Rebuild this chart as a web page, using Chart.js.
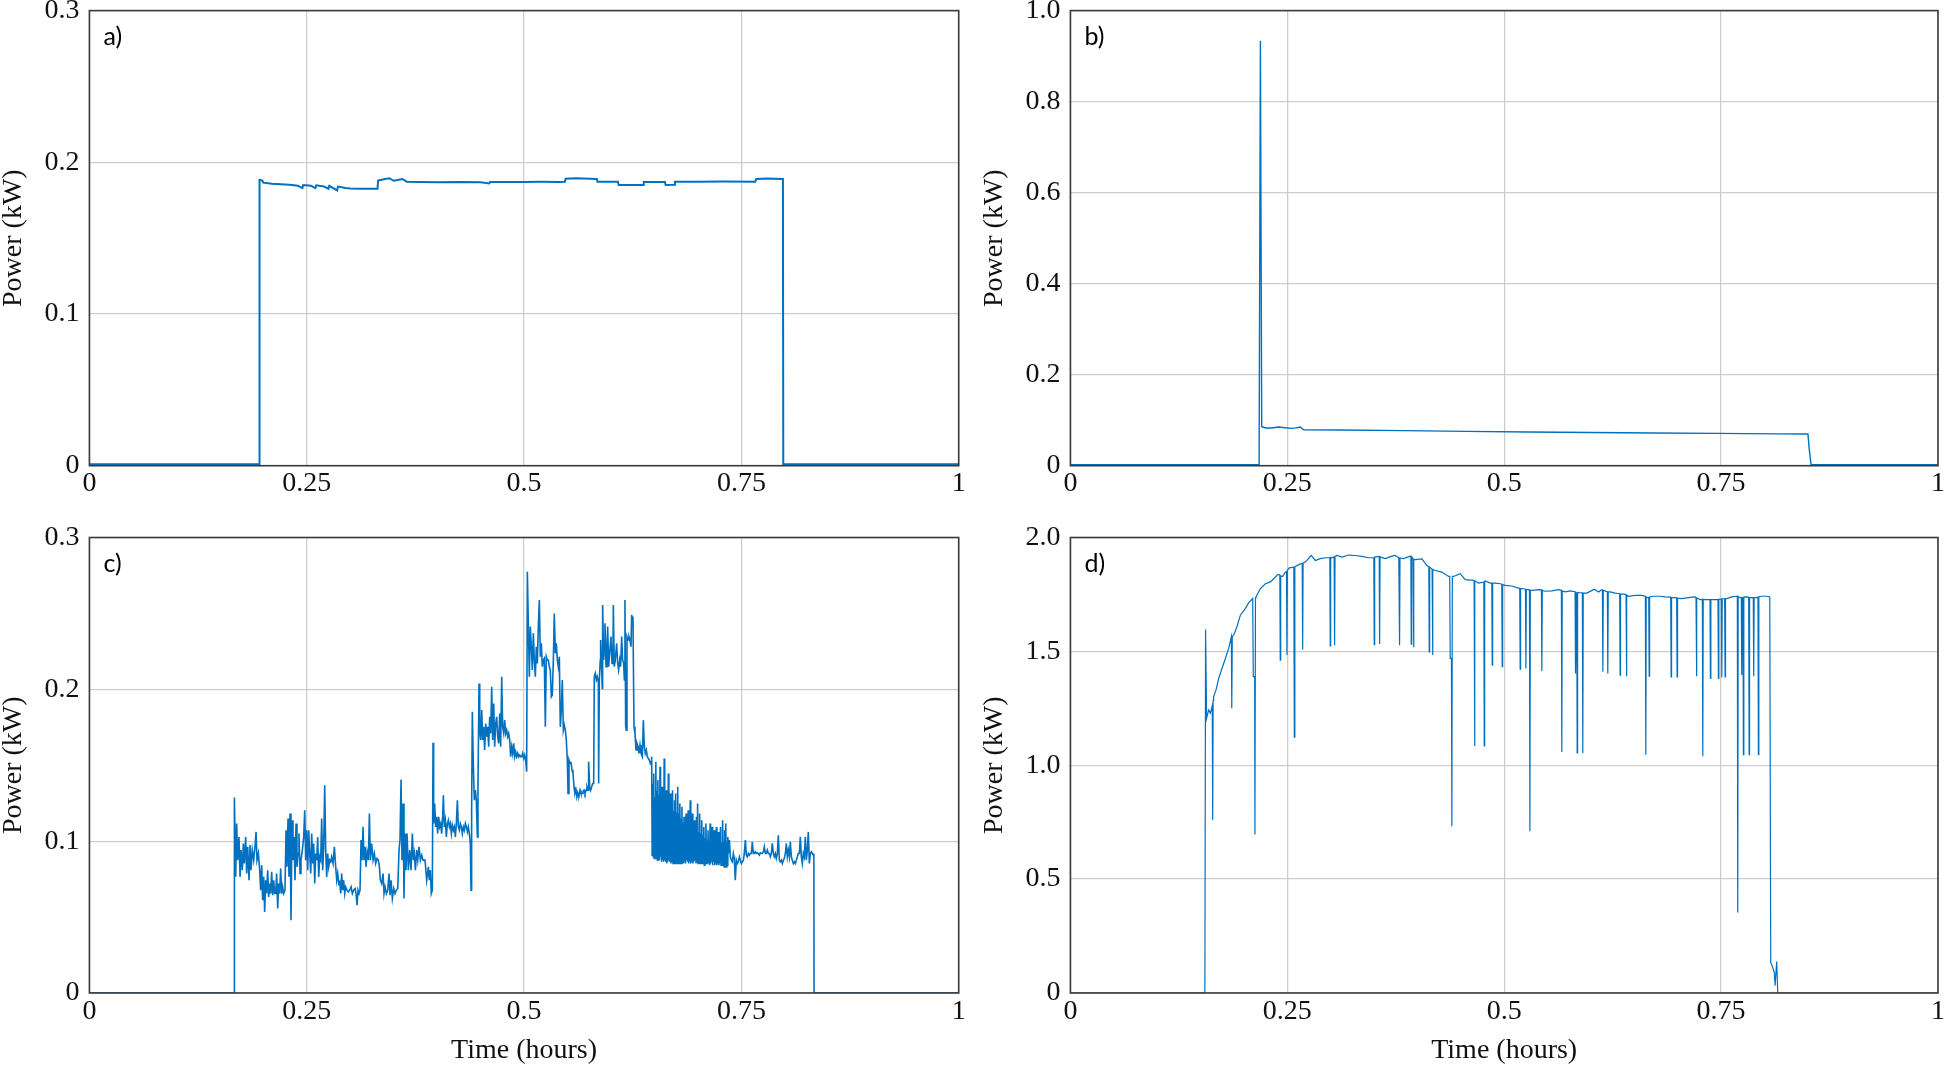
<!DOCTYPE html>
<html>
<head>
<meta charset="utf-8">
<script src="https://cdn.jsdelivr.net/npm/chart.js@4/dist/chart.umd.min.js"></script>
<style>
  html, body { margin: 0; padding: 0; background: #fff; }
  body { width: 1946px; height: 1066px; position: relative; overflow: hidden; }
  .panel { position: absolute; }
  .panel canvas { display: block; }
</style>
</head>
<body>
<div class="panel" style="left:0px;top:-20px"><canvas id="chartA" width="980" height="540"></canvas></div>
<div class="panel" style="left:973px;top:-20px"><canvas id="chartB" width="990" height="540"></canvas></div>
<div class="panel" style="left:0px;top:500px"><canvas id="chartC" width="980" height="566"></canvas></div>
<div class="panel" style="left:973px;top:500px"><canvas id="chartD" width="990" height="566"></canvas></div>
<script>
// axis ticks
const xTicks = [0, 0.25, 0.5, 0.75, 1];
const xTickLabels = ['0', '0.25', '0.5', '0.75', '1'];
const yTicksA = [0, 0.1, 0.2, 0.3];
const yLabelsA = ['0', '0.1', '0.2', '0.3'];
const yTicksB = [0, 0.2, 0.4, 0.6, 0.8, 1.0];
const yLabelsB = ['0', '0.2', '0.4', '0.6', '0.8', '1.0'];
const yTicksC = [0, 0.1, 0.2, 0.3];
const yLabelsC = ['0', '0.1', '0.2', '0.3'];
const yTicksD = [0, 0.5, 1.0, 1.5, 2.0];
const yLabelsD = ['0', '0.5', '1.0', '1.5', '2.0'];

// [time (hours), power (kW)]
const seriesA = [
  [0, 0.001], [0.1955, 0.001], [0.1957, 0.1885], [0.1990, 0.1880], [0.2000, 0.1866], [0.2099, 0.1858],
  [0.2200, 0.1855], [0.2300, 0.1852], [0.2400, 0.1845], [0.2450, 0.1830], [0.2460, 0.1850], [0.2550, 0.1845],
  [0.2600, 0.1830], [0.2610, 0.1848], [0.2700, 0.1840], [0.2750, 0.1825], [0.2760, 0.1845], [0.2850, 0.1815],
  [0.2860, 0.1840], [0.2950, 0.1830], [0.3000, 0.1828], [0.3100, 0.1826], [0.3200, 0.1826], [0.3315, 0.1826],
  [0.3321, 0.1880], [0.3400, 0.1890], [0.3450, 0.1895], [0.3500, 0.1878], [0.3600, 0.1890], [0.3650, 0.1872],
  [0.3800, 0.1870], [0.4000, 0.1868], [0.4250, 0.1870], [0.4500, 0.1868], [0.4600, 0.1860], [0.4610, 0.1870],
  [0.5000, 0.1870], [0.5200, 0.1871], [0.5400, 0.1870], [0.5470, 0.1872], [0.5478, 0.1892], [0.5600, 0.1895],
  [0.5838, 0.1890], [0.5845, 0.1872], [0.6080, 0.1872], [0.6089, 0.1850], [0.6370, 0.1850], [0.6377, 0.1870],
  [0.6620, 0.1870], [0.6629, 0.1850], [0.6730, 0.1852], [0.6736, 0.1872], [0.7000, 0.1872], [0.7300, 0.1874],
  [0.7660, 0.1872], [0.7671, 0.1890], [0.7800, 0.1893], [0.7978, 0.1890], [0.7982, 0.001], [1, 0.001]
];

const seriesB = [
  [0, 0.002], [0.2175, 0.002], [0.2190, 0.933], [0.2205, 0.0857], [0.2255, 0.0828], [0.2320, 0.0830],
  [0.2399, 0.0850], [0.2450, 0.0840], [0.2543, 0.0821], [0.2600, 0.0830], [0.2651, 0.0850], [0.2687, 0.0790],
  [0.3119, 0.0785], [0.3840, 0.0770], [0.4560, 0.0755], [0.5281, 0.0740], [0.6001, 0.0730], [0.6722, 0.0720],
  [0.7442, 0.0711], [0.8163, 0.0700], [0.8501, 0.0697], [0.8515, 0.038], [0.8537, 0.002], [1, 0.002]
];

const seriesC = [
  [0, 0], [0.1666, 0], [0.1668, 0.1288], [0.1683, 0.0765], [0.1694, 0.1116], [0.1706, 0.0875], [0.1721, 0.1028],
  [0.1733, 0.0765], [0.1744, 0.0941], [0.1759, 0.0809], [0.1771, 0.0985], [0.1782, 0.0853], [0.1798, 0.1028],
  [0.1809, 0.0787], [0.1821, 0.0963], [0.1836, 0.0743], [0.1848, 0.0974], [0.1859, 0.0809], [0.1874, 0.0941],
  [0.1890, 0.0875], [0.1905, 0.0963], [0.1917, 0.1061], [0.1928, 0.0875], [0.1944, 0.0919], [0.1959, 0.0809],
  [0.1970, 0.0677], [0.1982, 0.0842], [0.1993, 0.0611], [0.2005, 0.0765], [0.2016, 0.0534], [0.2028, 0.0743],
  [0.2039, 0.0655], [0.2051, 0.0809], [0.2062, 0.0633], [0.2074, 0.0721], [0.2085, 0.0655], [0.2097, 0.0798],
  [0.2108, 0.0644], [0.2120, 0.0743], [0.2131, 0.0655], [0.2143, 0.0655], [0.2154, 0.0787], [0.2166, 0.0556],
  [0.2177, 0.0721], [0.2189, 0.0655], [0.2200, 0.0820], [0.2212, 0.0655], [0.2223, 0.0699], [0.2235, 0.0655],
  [0.2250, 0.0677], [0.2262, 0.1072], [0.2273, 0.0831], [0.2285, 0.1149], [0.2296, 0.0765], [0.2308, 0.1182],
  [0.2319, 0.0479], [0.2331, 0.1138], [0.2342, 0.0875], [0.2354, 0.1028], [0.2365, 0.0743], [0.2377, 0.1116],
  [0.2388, 0.0831], [0.2400, 0.0919], [0.2411, 0.1050], [0.2423, 0.0787], [0.2434, 0.0875], [0.2450, 0.0941],
  [0.2465, 0.1028], [0.2477, 0.1204], [0.2488, 0.0875], [0.2500, 0.1072], [0.2511, 0.0809], [0.2523, 0.1072],
  [0.2534, 0.0919], [0.2546, 0.0787], [0.2557, 0.1050], [0.2569, 0.0853], [0.2580, 0.0985], [0.2592, 0.0721],
  [0.2603, 0.0919], [0.2615, 0.0875], [0.2626, 0.1028], [0.2638, 0.0765], [0.2649, 0.0897], [0.2661, 0.0875],
  [0.2672, 0.1149], [0.2684, 0.0809], [0.2695, 0.0963], [0.2707, 0.1369], [0.2718, 0.0941], [0.2730, 0.0765],
  [0.2741, 0.0919], [0.2753, 0.0831], [0.2764, 0.0875], [0.2776, 0.0864], [0.2787, 0.0897], [0.2803, 0.0853],
  [0.2818, 0.0963], [0.2833, 0.0831], [0.2845, 0.0743], [0.2856, 0.0787], [0.2868, 0.0721], [0.2879, 0.0732],
  [0.2891, 0.0655], [0.2902, 0.0787], [0.2914, 0.0677], [0.2925, 0.0743], [0.2937, 0.0655], [0.2948, 0.0699],
  [0.2964, 0.0677], [0.2979, 0.0666], [0.2994, 0.0677], [0.3010, 0.0699], [0.3025, 0.0655], [0.3040, 0.0677],
  [0.3056, 0.0688], [0.3067, 0.0655], [0.3079, 0.0578], [0.3090, 0.0677], [0.3102, 0.0655], [0.3113, 0.0677],
  [0.3125, 0.1007], [0.3136, 0.0875], [0.3148, 0.1094], [0.3159, 0.0875], [0.3171, 0.0963], [0.3182, 0.0831],
  [0.3194, 0.0930], [0.3209, 0.0875], [0.3221, 0.1182], [0.3232, 0.0875], [0.3247, 0.0985], [0.3263, 0.0875],
  [0.3278, 0.0919], [0.3293, 0.0853], [0.3309, 0.0886], [0.3324, 0.0875], [0.3336, 0.0831], [0.3347, 0.0743],
  [0.3362, 0.0721], [0.3378, 0.0787], [0.3389, 0.0655], [0.3401, 0.0699], [0.3416, 0.0655], [0.3431, 0.0677],
  [0.3447, 0.0787], [0.3458, 0.0644], [0.3470, 0.0743], [0.3485, 0.0622], [0.3501, 0.0688], [0.3516, 0.0655],
  [0.3531, 0.0677], [0.3547, 0.0688], [0.3562, 0.0941], [0.3573, 0.1007], [0.3585, 0.1406], [0.3596, 0.0875],
  [0.3608, 0.1248], [0.3619, 0.0622], [0.3631, 0.1050], [0.3642, 0.0809], [0.3654, 0.1050], [0.3669, 0.0809],
  [0.3685, 0.0941], [0.3700, 0.0809], [0.3715, 0.1050], [0.3727, 0.0875], [0.3738, 0.0919], [0.3750, 0.0809],
  [0.3765, 0.0941], [0.3777, 0.0875], [0.3792, 0.0963], [0.3807, 0.0875], [0.3823, 0.0908], [0.3838, 0.0875],
  [0.3853, 0.0875], [0.3861, 0.0875], [0.3880, 0.0743], [0.3899, 0.0831], [0.3910, 0.0743], [0.3922, 0.0809],
  [0.3933, 0.0655], [0.3945, 0.0677], [0.3953, 0.1648], [0.3960, 0.1116], [0.3972, 0.1248], [0.3983, 0.1094],
  [0.3995, 0.1160], [0.4006, 0.1050], [0.4018, 0.1160], [0.4029, 0.1094], [0.4041, 0.1116], [0.4052, 0.1050],
  [0.4064, 0.1160], [0.4072, 0.1303], [0.4083, 0.1094], [0.4095, 0.1138], [0.4106, 0.1028], [0.4118, 0.1116],
  [0.4129, 0.1138], [0.4141, 0.1094], [0.4152, 0.1116], [0.4164, 0.1050], [0.4175, 0.1105], [0.4187, 0.1072],
  [0.4198, 0.1094], [0.4210, 0.1028], [0.4221, 0.1116], [0.4233, 0.1270], [0.4244, 0.1094], [0.4256, 0.1072],
  [0.4267, 0.1116], [0.4279, 0.1094], [0.4290, 0.1050], [0.4302, 0.1094], [0.4313, 0.1072], [0.4325, 0.1116],
  [0.4336, 0.1094], [0.4348, 0.1061], [0.4359, 0.1094], [0.4371, 0.1050], [0.4382, 0.0985], [0.4390, 0.0677],
  [0.4397, 0.1204], [0.4405, 0.1852], [0.4417, 0.1490], [0.4428, 0.1270], [0.4440, 0.1336], [0.4451, 0.1270],
  [0.4463, 0.1028], [0.4470, 0.1358], [0.4482, 0.2039], [0.4490, 0.1731], [0.4501, 0.1666], [0.4513, 0.1863],
  [0.4524, 0.1666], [0.4536, 0.1753], [0.4547, 0.1600], [0.4559, 0.1775], [0.4570, 0.1688], [0.4582, 0.1753],
  [0.4593, 0.1622], [0.4605, 0.1819], [0.4616, 0.1710], [0.4628, 0.2017], [0.4639, 0.1666], [0.4651, 0.1907],
  [0.4662, 0.1622], [0.4674, 0.1775], [0.4685, 0.1819], [0.4697, 0.1688], [0.4708, 0.1644], [0.4720, 0.1841],
  [0.4731, 0.1622], [0.4743, 0.2083], [0.4754, 0.1753], [0.4766, 0.1710], [0.4777, 0.1797], [0.4789, 0.1710],
  [0.4800, 0.1731], [0.4812, 0.1688], [0.4823, 0.1710], [0.4835, 0.1666], [0.4846, 0.1556], [0.4858, 0.1622],
  [0.4869, 0.1578], [0.4881, 0.1644], [0.4892, 0.1556], [0.4904, 0.1589], [0.4915, 0.1556], [0.4927, 0.1578],
  [0.4938, 0.1556], [0.4950, 0.1567], [0.4961, 0.1556], [0.4973, 0.1556], [0.4984, 0.1578], [0.4996, 0.1545],
  [0.5007, 0.1567], [0.5019, 0.1534], [0.5030, 0.1457], [0.5038, 0.2775], [0.5049, 0.2435], [0.5061, 0.2083],
  [0.5072, 0.2413], [0.5084, 0.2281], [0.5095, 0.2127], [0.5107, 0.2369], [0.5118, 0.2193], [0.5130, 0.2083],
  [0.5141, 0.2281], [0.5153, 0.2171], [0.5164, 0.2413], [0.5176, 0.2588], [0.5187, 0.2215], [0.5199, 0.2303],
  [0.5210, 0.2149], [0.5222, 0.2193], [0.5233, 0.2204], [0.5245, 0.1753], [0.5256, 0.2215], [0.5268, 0.2193],
  [0.5279, 0.2193], [0.5291, 0.2149], [0.5302, 0.2127], [0.5314, 0.1951], [0.5325, 0.1962], [0.5337, 0.2193],
  [0.5348, 0.2500], [0.5360, 0.2237], [0.5371, 0.2303], [0.5383, 0.2193], [0.5394, 0.2149], [0.5406, 0.2215],
  [0.5417, 0.1753], [0.5429, 0.1863], [0.5440, 0.2061], [0.5452, 0.1731], [0.5463, 0.1764], [0.5475, 0.1731],
  [0.5486, 0.1666], [0.5498, 0.1534], [0.5506, 0.1314], [0.5517, 0.1534], [0.5529, 0.1512], [0.5540, 0.1523],
  [0.5552, 0.1468], [0.5563, 0.1446], [0.5575, 0.1358], [0.5586, 0.1314], [0.5598, 0.1336], [0.5609, 0.1292],
  [0.5621, 0.1314], [0.5632, 0.1303], [0.5644, 0.1336], [0.5655, 0.1314], [0.5667, 0.1314], [0.5678, 0.1325],
  [0.5690, 0.1336], [0.5701, 0.1314], [0.5713, 0.1336], [0.5724, 0.1358], [0.5736, 0.1336], [0.5743, 0.1523],
  [0.5755, 0.1358], [0.5766, 0.1336], [0.5778, 0.1358], [0.5789, 0.1380], [0.5801, 0.1380], [0.5808, 0.2083],
  [0.5820, 0.2105], [0.5832, 0.2061], [0.5843, 0.2083], [0.5855, 0.2050], [0.5858, 0.1380], [0.5866, 0.2061],
  [0.5877, 0.2193], [0.5881, 0.2325], [0.5893, 0.2127], [0.5900, 0.2006], [0.5904, 0.2555], [0.5916, 0.2193],
  [0.5927, 0.2281], [0.5931, 0.2435], [0.5943, 0.2149], [0.5954, 0.2281], [0.5962, 0.2413], [0.5973, 0.2149],
  [0.5985, 0.2237], [0.6000, 0.2347], [0.6012, 0.2171], [0.6023, 0.2193], [0.6027, 0.2555], [0.6038, 0.2149],
  [0.6050, 0.2193], [0.6065, 0.2303], [0.6077, 0.2171], [0.6088, 0.2127], [0.6100, 0.2193], [0.6111, 0.2149],
  [0.6123, 0.2347], [0.6134, 0.2193], [0.6146, 0.2171], [0.6154, 0.2061], [0.6161, 0.2588], [0.6169, 0.1753],
  [0.6177, 0.1731], [0.6184, 0.2347], [0.6196, 0.2325], [0.6207, 0.2347], [0.6219, 0.2325], [0.6230, 0.2281],
  [0.6238, 0.2490], [0.6246, 0.2457], [0.6253, 0.2479], [0.6261, 0.1973], [0.6265, 0.1753], [0.6276, 0.1710],
  [0.6288, 0.1600], [0.6299, 0.1644], [0.6311, 0.1622], [0.6322, 0.1578], [0.6334, 0.1633], [0.6345, 0.1578],
  [0.6361, 0.1556], [0.6372, 0.1797], [0.6384, 0.1622], [0.6395, 0.1578], [0.6407, 0.1600], [0.6418, 0.1556],
  [0.6430, 0.1545], [0.6441, 0.1534], [0.6453, 0.1512], [0.6464, 0.1523],
  [0.6468, 0.1556], [0.6474, 0.0908], [0.6480, 0.1380], [0.6486, 0.0897], [0.6492, 0.1446], [0.6498, 0.0886],
  [0.6504, 0.1290], [0.6510, 0.0897], [0.6516, 0.1523], [0.6522, 0.0886], [0.6528, 0.1330], [0.6534, 0.0875],
  [0.6540, 0.1402], [0.6546, 0.0886], [0.6552, 0.1300], [0.6558, 0.0875], [0.6564, 0.1490], [0.6570, 0.0897],
  [0.6576, 0.1320], [0.6582, 0.0864], [0.6588, 0.1358], [0.6594, 0.0875], [0.6600, 0.1280], [0.6606, 0.0864],
  [0.6612, 0.1545], [0.6618, 0.0875], [0.6624, 0.1300], [0.6630, 0.0864], [0.6636, 0.1336], [0.6642, 0.0853],
  [0.6648, 0.1250], [0.6654, 0.0864], [0.6660, 0.1446], [0.6666, 0.0875], [0.6672, 0.1260], [0.6678, 0.0864],
  [0.6684, 0.1314], [0.6690, 0.0853], [0.6696, 0.1240], [0.6702, 0.0864], [0.6708, 0.1336], [0.6714, 0.0853],
  [0.6720, 0.1200], [0.6726, 0.0864], [0.6732, 0.1270], [0.6738, 0.0853], [0.6744, 0.1314], [0.6750, 0.0864],
  [0.6756, 0.1190], [0.6762, 0.0853], [0.6768, 0.1358], [0.6774, 0.0864], [0.6780, 0.1180], [0.6786, 0.0853],
  [0.6792, 0.1248], [0.6798, 0.0864], [0.6804, 0.1150], [0.6810, 0.0853], [0.6816, 0.1226], [0.6822, 0.0864],
  [0.6828, 0.1120], [0.6834, 0.0853], [0.6840, 0.1160], [0.6846, 0.0864], [0.6852, 0.1100], [0.6858, 0.0853],
  [0.6864, 0.1182], [0.6870, 0.0875], [0.6876, 0.1090], [0.6882, 0.0864], [0.6888, 0.1204], [0.6894, 0.0853],
  [0.6900, 0.1110], [0.6906, 0.0864], [0.6912, 0.1270], [0.6918, 0.0853], [0.6924, 0.1100], [0.6930, 0.0864],
  [0.6936, 0.1182], [0.6942, 0.0853], [0.6948, 0.1080], [0.6954, 0.0864], [0.6960, 0.1138], [0.6966, 0.0875],
  [0.6972, 0.1070], [0.6978, 0.0853], [0.6984, 0.1160], [0.6990, 0.0864], [0.6996, 0.1248], [0.7002, 0.0853],
  [0.7008, 0.1060], [0.7014, 0.0864], [0.7020, 0.1182], [0.7026, 0.0853], [0.7032, 0.1050], [0.7038, 0.0864],
  [0.7044, 0.1138], [0.7050, 0.0853], [0.7056, 0.1040], [0.7062, 0.0864], [0.7068, 0.1094], [0.7074, 0.0842],
  [0.7080, 0.1020], [0.7086, 0.0864], [0.7092, 0.1116], [0.7098, 0.0853], [0.7104, 0.1010], [0.7110, 0.0864],
  [0.7116, 0.1072], [0.7122, 0.0853], [0.7128, 0.1000], [0.7134, 0.0842], [0.7140, 0.1116], [0.7146, 0.0853],
  [0.7152, 0.1000], [0.7158, 0.0864], [0.7164, 0.1094], [0.7170, 0.0842], [0.7176, 0.0990], [0.7182, 0.0864],
  [0.7188, 0.1072], [0.7194, 0.0842], [0.7200, 0.1000], [0.7206, 0.0853], [0.7212, 0.1094], [0.7218, 0.0842],
  [0.7224, 0.0990], [0.7230, 0.0853], [0.7236, 0.1061], [0.7242, 0.0842], [0.7248, 0.1000], [0.7254, 0.0853],
  [0.7260, 0.1094], [0.7266, 0.0842], [0.7272, 0.0990], [0.7278, 0.0853], [0.7284, 0.1138], [0.7290, 0.0842],
  [0.7296, 0.1000], [0.7302, 0.0831], [0.7308, 0.1072], [0.7314, 0.0842], [0.7320, 0.1116], [0.7326, 0.0831],
  [0.7332, 0.0990], [0.7338, 0.0842], [0.7344, 0.1028],
  [0.7350, 0.0919], [0.7362, 0.1007], [0.7373, 0.0897], [0.7385, 0.0875], [0.7396, 0.0864], [0.7408, 0.0919],
  [0.7419, 0.0886], [0.7430, 0.0743], [0.7442, 0.0875], [0.7454, 0.0853], [0.7465, 0.0864], [0.7477, 0.0897],
  [0.7488, 0.0875], [0.7500, 0.0853], [0.7511, 0.0864], [0.7523, 0.0875], [0.7534, 0.0919], [0.7546, 0.1007],
  [0.7557, 0.0908], [0.7569, 0.0897], [0.7580, 0.0919], [0.7592, 0.0908], [0.7603, 0.0919], [0.7615, 0.0919],
  [0.7626, 0.0996], [0.7638, 0.0919], [0.7649, 0.0919], [0.7661, 0.0930], [0.7672, 0.0919], [0.7684, 0.0923],
  [0.7695, 0.0919], [0.7707, 0.0908], [0.7718, 0.0923], [0.7730, 0.0919], [0.7741, 0.0919], [0.7753, 0.0930],
  [0.7764, 0.0963], [0.7776, 0.0919], [0.7787, 0.0919], [0.7799, 0.0941], [0.7810, 0.0919], [0.7822, 0.0919],
  [0.7833, 0.0897], [0.7845, 0.0919], [0.7856, 0.0985], [0.7868, 0.0919], [0.7879, 0.0897], [0.7891, 0.0919],
  [0.7902, 0.0886], [0.7914, 0.0919], [0.7925, 0.1039], [0.7937, 0.0875], [0.7948, 0.0864], [0.7960, 0.0875],
  [0.7971, 0.0853], [0.7983, 0.0875], [0.7994, 0.0886], [0.8006, 0.0919], [0.8017, 0.0985], [0.8029, 0.0897],
  [0.8040, 0.0941], [0.8052, 0.0897], [0.8063, 0.0996], [0.8075, 0.0897], [0.8086, 0.0875], [0.8098, 0.0853],
  [0.8109, 0.0864], [0.8121, 0.0853], [0.8132, 0.0875], [0.8144, 0.0897], [0.8155, 0.0919], [0.8167, 0.0919],
  [0.8178, 0.1028], [0.8190, 0.0897], [0.8201, 0.0853], [0.8213, 0.0919], [0.8224, 0.0897], [0.8236, 0.1028],
  [0.8247, 0.0875], [0.8259, 0.0941], [0.8270, 0.1061], [0.8282, 0.0853], [0.8293, 0.0919], [0.8305, 0.0930],
  [0.8316, 0.0919], [0.8328, 0.0908], [0.8334, 0.0919], [0.8336, 0], [1, 0]
];

const seriesD = [
  [0, 0], [0.1550, 0], [0.1558, 1.596], [0.1570, 1.206], [0.1594, 1.243], [0.1613, 1.228], [0.1635, 1.262],
  [0.1640, 0.761], [0.1645, 1.285], [0.1651, 1.301], [0.1678, 1.330], [0.1709, 1.381], [0.1747, 1.425],
  [0.1786, 1.469], [0.1824, 1.513], [0.1855, 1.564], [0.1860, 1.250], [0.1866, 1.566], [0.1882, 1.571],
  [0.1920, 1.608], [0.1959, 1.659], [0.2016, 1.688], [0.2054, 1.713], [0.2101, 1.732], [0.2108, 1.389],
  [0.2124, 1.389], [0.2127, 0.696], [0.2133, 1.735], [0.2139, 1.739], [0.2189, 1.775], [0.2247, 1.797],
  [0.2304, 1.805], [0.2343, 1.819], [0.2393, 1.838], [0.2414, 1.836], [0.2419, 1.462], [0.2424, 1.832],
  [0.2446, 1.829], [0.2477, 1.848], [0.2491, 1.850], [0.2496, 1.484], [0.2501, 1.855], [0.2523, 1.867],
  [0.2575, 1.870], [0.2581, 1.123], [0.2587, 1.871], [0.2592, 1.873], [0.2650, 1.884], [0.2672, 1.886],
  [0.2677, 1.508], [0.2682, 1.888], [0.2707, 1.892], [0.2776, 1.921], [0.2823, 1.899], [0.2880, 1.907],
  [0.2938, 1.911], [0.2990, 1.912], [0.2995, 1.524], [0.3000, 1.913], [0.3015, 1.911], [0.3040, 1.915],
  [0.3045, 1.527], [0.3050, 1.917], [0.3072, 1.921], [0.3130, 1.914], [0.3207, 1.923], [0.3283, 1.921],
  [0.3360, 1.917], [0.3437, 1.911], [0.3497, 1.912], [0.3502, 1.530], [0.3507, 1.914], [0.3533, 1.916],
  [0.3559, 1.917], [0.3564, 1.532], [0.3569, 1.915], [0.3629, 1.907], [0.3706, 1.918], [0.3744, 1.921],
  [0.3785, 1.911], [0.3794, 1.527], [0.3799, 1.910], [0.3840, 1.907], [0.3917, 1.918], [0.3924, 1.917],
  [0.3929, 1.532], [0.3934, 1.915], [0.3950, 1.906], [0.3955, 1.518], [0.3960, 1.904], [0.3975, 1.903],
  [0.4052, 1.906], [0.4109, 1.877], [0.4128, 1.873], [0.4131, 1.872], [0.4136, 1.498], [0.4141, 1.870],
  [0.4169, 1.862], [0.4174, 1.484], [0.4179, 1.860], [0.4197, 1.856], [0.4282, 1.848], [0.4359, 1.829],
  [0.4372, 1.829], [0.4378, 1.469], [0.4392, 1.469], [0.4397, 0.732], [0.4402, 1.829], [0.4416, 1.829],
  [0.4493, 1.841], [0.4551, 1.815], [0.4647, 1.812], [0.4653, 1.811], [0.4658, 1.085], [0.4663, 1.810],
  [0.4704, 1.800], [0.4765, 1.805], [0.4770, 1.085], [0.4775, 1.808], [0.4781, 1.809], [0.4839, 1.800],
  [0.4857, 1.800], [0.4862, 1.440], [0.4867, 1.800], [0.4896, 1.800], [0.4954, 1.797], [0.4972, 1.795],
  [0.4977, 1.433], [0.4982, 1.793], [0.5012, 1.790], [0.5088, 1.787], [0.5165, 1.778], [0.5179, 1.777],
  [0.5184, 1.422], [0.5189, 1.776], [0.5223, 1.775], [0.5245, 1.773], [0.5250, 1.425], [0.5255, 1.772],
  [0.5291, 1.770], [0.5296, 0.710], [0.5301, 1.769], [0.5319, 1.768], [0.5396, 1.771], [0.5429, 1.770],
  [0.5434, 1.414], [0.5439, 1.768], [0.5472, 1.764], [0.5549, 1.766], [0.5626, 1.771], [0.5659, 1.768],
  [0.5664, 1.058], [0.5669, 1.765], [0.5703, 1.761], [0.5760, 1.766], [0.5817, 1.762], [0.5822, 1.403],
  [0.5836, 1.760], [0.5841, 1.054], [0.5846, 1.759], [0.5864, 1.758], [0.5901, 1.757], [0.5906, 1.054],
  [0.5911, 1.757], [0.5952, 1.756], [0.6029, 1.771], [0.6048, 1.771], [0.6087, 1.761], [0.6125, 1.771],
  [0.6132, 1.770], [0.6137, 1.411], [0.6142, 1.768], [0.6189, 1.762], [0.6194, 1.403], [0.6199, 1.761],
  [0.6221, 1.761], [0.6279, 1.756], [0.6331, 1.753], [0.6336, 1.396], [0.6341, 1.752], [0.6375, 1.751],
  [0.6404, 1.750], [0.6409, 1.391], [0.6414, 1.746], [0.6432, 1.742], [0.6509, 1.746], [0.6586, 1.746],
  [0.6627, 1.742], [0.6632, 1.046], [0.6637, 1.738], [0.6655, 1.736], [0.6666, 1.737], [0.6671, 1.391],
  [0.6676, 1.739], [0.6720, 1.742], [0.6797, 1.742], [0.6855, 1.739], [0.6919, 1.738], [0.6924, 1.388],
  [0.6929, 1.737], [0.6970, 1.736], [0.6988, 1.735], [0.6993, 1.388], [0.6998, 1.734], [0.7047, 1.732],
  [0.7124, 1.736], [0.7200, 1.739], [0.7211, 1.737], [0.7216, 1.391], [0.7221, 1.735], [0.7258, 1.727],
  [0.7284, 1.728], [0.7289, 1.039], [0.7294, 1.728], [0.7335, 1.727], [0.7372, 1.727], [0.7377, 1.381],
  [0.7382, 1.727], [0.7412, 1.727], [0.7464, 1.728], [0.7469, 1.381], [0.7474, 1.729], [0.7503, 1.730],
  [0.7508, 1.386], [0.7513, 1.731], [0.7541, 1.731], [0.7546, 1.388], [0.7551, 1.732], [0.7565, 1.732],
  [0.7623, 1.739], [0.7680, 1.742], [0.7687, 1.742], [0.7692, 0.353], [0.7697, 1.741], [0.7707, 1.739],
  [0.7727, 1.736], [0.7733, 1.736], [0.7738, 1.396], [0.7743, 1.736], [0.7752, 1.737], [0.7757, 1.046],
  [0.7762, 1.738], [0.7796, 1.739], [0.7818, 1.738], [0.7823, 1.046], [0.7828, 1.737], [0.7853, 1.736],
  [0.7871, 1.736], [0.7876, 1.391], [0.7881, 1.736], [0.7911, 1.736], [0.7925, 1.738], [0.7930, 1.046],
  [0.7935, 1.740], [0.7968, 1.742], [0.8026, 1.742], [0.8061, 1.739], [0.8072, 0.134], [0.8095, 0.112],
  [0.8114, 0.090], [0.8122, 0.032], [0.8141, 0.138], [0.8153, 0], [1, 0]
];

const lineColor = '#0070c0';
const gridColor = '#cdcdcd';
const textColor = '#111111';
const serif = "'Liberation Serif', 'Times New Roman', serif";
const tickFont = { family: serif, size: 28, lineHeight: 0.8 };
const titleFont = { family: serif, size: 28, lineHeight: 1 };

// draws the dark box round the plot and the panel letter
const framePlugin = {
  id: 'panelFrame',
  afterDraw(chart, args, opts) {
    const { ctx, chartArea: a } = chart;
    ctx.save();
    ctx.strokeStyle = '#3c3c3c';
    ctx.lineWidth = 1.6;
    ctx.strokeRect(a.left, a.top, a.right - a.left, a.bottom - a.top);
    ctx.fillStyle = '#000';
    ctx.font = '25px Lato, "Open Sans", sans-serif';
    ctx.textBaseline = 'alphabetic';
    ctx.fillText(opts.tag, a.left + 14, a.top + 34);
    ctx.restore();
  }
};

// canvases hang a little past their cells so chart.js padding never moves the plot box
const panels = [
  { id: 'chartA', tag: 'a)', data: seriesA, yMax: 0.3, yTicks: yTicksA, yLabels: yLabelsA, lw: 2.0,
    xTitle: false, yW: 89.4, xH: 54.3, padTop: 30.6, padRight: 21.3, yTitlePad: 0 },
  { id: 'chartB', tag: 'b)', data: seriesB, yMax: 1.0, yTicks: yTicksB, yLabels: yLabelsB, lw: 1.4,
    xTitle: false, yW: 97.4, xH: 54.3, padTop: 30.6, padRight: 25, yTitlePad: 8 },
  { id: 'chartC', tag: 'c)', data: seriesC, yMax: 0.3, yTicks: yTicksC, yLabels: yLabelsC, lw: 1.6,
    xTitle: true, yW: 89.4, xH: 73, padTop: 37.5, padRight: 21.3, yTitlePad: 0 },
  { id: 'chartD', tag: 'd)', data: seriesD, yMax: 2.0, yTicks: yTicksD, yLabels: yLabelsD, lw: 1.2,
    xTitle: true, yW: 97.4, xH: 73, padTop: 37.5, padRight: 25, yTitlePad: 8 }
];

function makeChart(p) {
  const ctx = document.getElementById(p.id).getContext('2d');
  return new Chart(ctx, {
    type: 'line',
    data: {
      datasets: [{
        data: p.data.map(([x, y]) => ({ x: x, y: y })),
        borderColor: lineColor,
        borderWidth: p.lw,
        pointRadius: 0,
        tension: 0,
        fill: false
      }]
    },
    options: {
      responsive: false,
      animation: false,
      events: [],
      layout: { padding: { left: 0, top: p.padTop, right: p.padRight, bottom: 0 } },
      plugins: {
        legend: { display: false },
        tooltip: { enabled: false },
        panelFrame: { tag: p.tag }
      },
      scales: {
        x: {
          type: 'linear', min: 0, max: 1,
          afterBuildTicks: s => { s.ticks = xTicks.map(v => ({ value: v })); },
          afterFit: s => { s.height = p.xH; },
          grid: { color: gridColor, lineWidth: 1.3, drawTicks: false },
          border: { display: false },
          ticks: { padding: 7, color: textColor, font: tickFont, maxRotation: 0, autoSkip: false,
                   callback: (v, i) => xTickLabels[i] },
          title: { display: p.xTitle, text: 'Time (hours)', color: textColor, font: titleFont,
                   padding: { top: 0, bottom: 1 } }
        },
        y: {
          type: 'linear', min: 0, max: p.yMax,
          afterBuildTicks: s => { s.ticks = p.yTicks.map(v => ({ value: v })); },
          afterFit: s => { s.width = p.yW; },
          grid: { color: gridColor, lineWidth: 1.3, drawTicks: false },
          border: { display: false },
          ticks: { padding: 10, color: textColor, font: tickFont, autoSkip: false,
                   callback: (v, i) => p.yLabels[i] },
          title: { display: true, text: 'Power (kW)', color: textColor, font: titleFont,
                   padding: { top: p.yTitlePad, bottom: 0 } }
        }
      }
    },
    plugins: [framePlugin]
  });
}

panels.forEach(makeChart);
</script>
</body>
</html>
